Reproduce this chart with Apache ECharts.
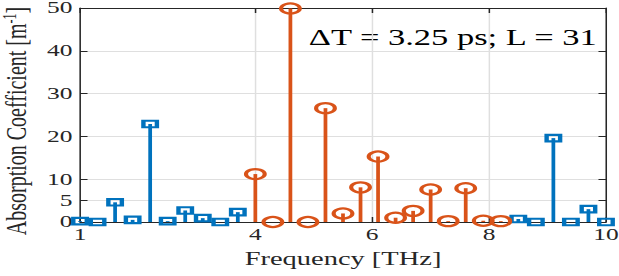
<!DOCTYPE html>
<html>
<head>
<meta charset="utf-8">
<script src="https://cdn.jsdelivr.net/npm/echarts@6/dist/echarts.min.js"></script>
<style>
html, body { margin: 0; padding: 0; background: #fff; }
/* the figure is drawn narrow and stretched sideways like the original export */
#chart { width: 413px; height: 276px; transform: scaleX(1.4988); transform-origin: 0 0; }
</style>
</head>
<body>
<div id="chart"></div>
<script>
// samples outside the 4-8.2 THz band (blue squares)
var outsideFreq = [1.0, 1.3, 1.6, 1.9, 2.2, 2.5, 2.8, 3.1, 3.4, 3.7, 8.5, 8.8, 9.1, 9.4, 9.7, 10.0];
var outsideAbs = [0.2, 0, 4.6, 0.5, 22.9, 0.2, 2.7, 0.9, 0, 2.3, 0.7, 0, 19.6, 0, 3.0, 0];
// samples inside the band (orange circles)
var insideFreq = [4.0, 4.3, 4.6, 4.9, 5.2, 5.5, 5.8, 6.1, 6.4, 6.7, 7.0, 7.3, 7.6, 7.9, 8.2];
var insideAbs = [11.2, 0, 49.9, 0, 26.6, 2.0, 8.1, 15.3, 1.0, 2.6, 7.6, 0.2, 7.9, 0.3, 0.2];

var xTicks = [1, 4, 6, 8, 10];
var yTicks = [0, 5, 10, 20, 30, 40, 50];

var serif = 'Liberation Serif';
var ink = '#262626';
var blue = '#0072BD';
var orange = '#D95319';

function pairs(xs, ys) {
    return xs.map(function (x, i) { return [x, ys[i]]; });
}

function stem(color) {
    return function (params, api) {
        var tip = api.coord([api.value(0), api.value(1)]);
        var base = api.coord([api.value(0), 0]);
        return {
            type: 'line',
            shape: { x1: base[0], y1: base[1], x2: tip[0], y2: tip[1] },
            style: { stroke: color, lineWidth: 2.5 }
        };
    };
}

var boxAxis = {
    axisLine: { show: true, onZero: false, lineStyle: { color: ink, width: 1 } },
    axisLabel: { show: false },
    splitLine: { show: false }
};

var myChart = echarts.init(document.getElementById('chart'), null, { renderer: 'svg' });

option = {
    backgroundColor: '#fff',
    animation: false,
    textStyle: { fontFamily: serif, fontWeight: 'normal' },
    grid: { left: 53.4, right: 8.7, top: 8, bottom: 54, outerBoundsMode: 'none', containLabel: false },
    xAxis: [{
        type: 'value', min: 1, max: 10, position: 'bottom',
        axisLine: { show: true, onZero: false, lineStyle: { color: ink, width: 1 } },
        axisTick: { inside: true, length: 5, customValues: xTicks, lineStyle: { color: ink } },
        axisLabel: { customValues: xTicks, fontFamily: serif, fontSize: 17, color: ink, margin: 4 },
        splitLine: { show: true, lineStyle: { color: '#dfdfdf' } },
        name: 'Frequency [THz]', nameLocation: 'middle', nameGap: 27,
        nameTextStyle: { fontFamily: serif, fontSize: 19, fontWeight: 'normal', color: ink }
    }, Object.assign({
        type: 'value', min: 1, max: 10, position: 'top',
        axisTick: { inside: true, length: 5, customValues: xTicks, lineStyle: { color: ink } }
    }, boxAxis)],
    yAxis: [{
        type: 'value', min: 0, max: 50, position: 'left',
        axisLine: { show: true, onZero: false, lineStyle: { color: ink, width: 1 } },
        axisTick: { inside: true, length: 5, customValues: yTicks, lineStyle: { color: ink } },
        axisLabel: { customValues: yTicks, fontFamily: serif, fontSize: 17, color: ink, margin: 5 },
        splitLine: { show: true, lineStyle: { color: '#dfdfdf' } },
        name: '{t|Absorption Coefficient [m}{s|-1}{t|]}', nameLocation: 'middle', nameGap: 29,
        nameTextStyle: {
            padding: [0, 12, 0, 0],
            rich: {
                t: { fontFamily: serif, fontSize: 20, color: ink, lineHeight: 20 },
                s: { fontFamily: serif, fontSize: 12, color: ink, lineHeight: 20, verticalAlign: 'top', padding: [0, 0, 8, 0] }
            }
        }
    }, Object.assign({
        type: 'value', min: 0, max: 50, position: 'right',
        axisTick: { inside: true, length: 5, customValues: yTicks, lineStyle: { color: ink } }
    }, boxAxis)],
    graphic: [{
        type: 'text', left: 206, top: 26,
        style: { text: '\u0394T = 3.25 ps; L = 31', fontFamily: serif, fontSize: 23, fill: '#000' }
    }],
    series: [
        { type: 'custom', renderItem: stem(blue), data: pairs(outsideFreq, outsideAbs), z: 2 },
        { type: 'custom', renderItem: stem(orange), data: pairs(insideFreq, insideAbs), z: 2 },
        {
            type: 'scatter', data: pairs(outsideFreq, outsideAbs), clip: false, z: 3,
            symbol: 'rect', symbolSize: [9, 6.5],
            itemStyle: { color: 'rgba(0,0,0,0)', borderColor: blue, borderWidth: 2.5, opacity: 1 }
        },
        {
            type: 'scatter', data: pairs(insideFreq, insideAbs), clip: false, z: 3,
            symbol: 'circle', symbolSize: [12.5, 10],
            itemStyle: { color: 'rgba(0,0,0,0)', borderColor: orange, borderWidth: 2.5, opacity: 1 }
        }
    ]
};

if (option && typeof option === 'object') {
    myChart.setOption(option, true);
}
</script>
</body>
</html>
